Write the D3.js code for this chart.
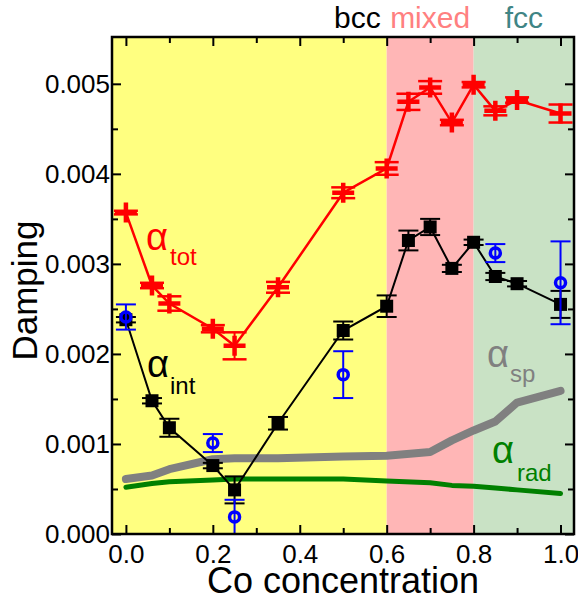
<!DOCTYPE html>
<html>
<head>
<meta charset="utf-8">
<script src="https://cdn.jsdelivr.net/npm/d3@7"></script>
<style>
  html, body { margin: 0; padding: 0; background: #fff; }
  svg { display: block; font-family: "Liberation Sans", Arial, sans-serif; }
</style>
</head>
<body>
<svg id="chart" width="578" height="601"></svg>
<script>
// Co concentration samples
const conc = [0, 0.06, 0.1, 0.2, 0.25, 0.35, 0.5, 0.6, 0.65, 0.7, 0.75, 0.8, 0.85, 0.9, 1.0];
// total damping (red crosses) and its error
const alphaTot    = [0.00357, 0.00276, 0.00256, 0.00228, 0.00209, 0.00274, 0.00379, 0.00406, 0.00480, 0.00496, 0.00457, 0.00499, 0.00470, 0.00482, 0.00467];
const alphaTotErr = [0.00002, 0.00003, 0.00008, 0.00004, 0.00015, 0.00006, 0.00006, 0.00007, 0.00009, 0.00007, 0.00003, 0.00003, 0.00005, 0.00003, 0.00010];
// intrinsic damping (black squares) and its error
const alphaInt    = [0.00238, 0.00148, 0.00118, 0.00076, 0.00049, 0.00123, 0.00226, 0.00253, 0.00326, 0.00341, 0.00295, 0.00324, 0.00286, 0.00278, 0.00255];
const alphaIntErr = [0.00003, 0.00003, 0.00010, 0.00003, 0.00015, 0.00007, 0.00010, 0.00012, 0.00011, 0.00009, 0.00004, 0.00003, 0.00004, 0.00003, 0.00015];
// calculated damping (blue open circles)
const calcConc    = [0, 0.2, 0.25, 0.5, 0.85, 1.0];
const alphaCalc   = [0.00241, 0.00101, 0.00019, 0.00177, 0.00312, 0.00279];
const alphaCalcErr= [0.00014, 0.00010, 0.00019, 0.00026, 0.00010, 0.00046];
// spin pumping and radiative contributions
const curveConc = [0, 0.06, 0.1, 0.2, 0.25, 0.35, 0.5, 0.6, 0.7, 0.75, 0.8, 0.85, 0.9, 1.0];
const alphaSp   = [0.00061, 0.00065, 0.00072, 0.00083, 0.00084, 0.00084, 0.00086, 0.00087, 0.00091, 0.00104, 0.00115, 0.00125, 0.00146, 0.00159];
const alphaRad  = [0.00052, 0.00056, 0.00058, 0.00060, 0.00061, 0.00061, 0.00061, 0.00059, 0.00057, 0.00054, 0.00053, 0.00051, 0.00049, 0.00045];
// crystal phase regions
const phaseNames  = ["bcc", "mixed", "fcc"];
const phaseBounds = [0.6, 0.8];
// axis ticks
const xTicks = [0, 0.2, 0.4, 0.6, 0.8, 1.0];
const xMinor = [0.1, 0.3, 0.5, 0.7, 0.9];
const yTicks = [0, 0.001, 0.002, 0.003, 0.004, 0.005];
const yMinor = [0.0005, 0.0015, 0.0025, 0.0035, 0.0045];

const svg = d3.select("#chart");
const L = 112, R = 574, T = 37, B = 534;
const xDomain = [-0.032, 1.031];
const x = d3.scaleLinear().domain(xDomain).range([L, R]);
const y = d3.scaleLinear().domain([0, 0.00552]).range([B, T]);

// phase backgrounds
const phaseEdges = [xDomain[0], ...phaseBounds, xDomain[1]];
const phaseFill  = ["#ffff80", "#ffb6b6", "#c9e2c5"];
const phaseText  = ["#000000", "#ff8080", "#3f8585"];
svg.append("g").selectAll("rect").data(phaseNames).join("rect")
  .attr("x", (d, i) => x(phaseEdges[i]))
  .attr("y", T)
  .attr("width", (d, i) => x(phaseEdges[i + 1]) - x(phaseEdges[i]))
  .attr("height", B - T)
  .attr("fill", (d, i) => phaseFill[i]);

// phase labels above the frame
svg.append("g").selectAll("text").data(phaseNames).join("text")
  .attr("x", (d, i) => i === 0 ? x(phaseEdges[1]) - 6 : (x(phaseEdges[i]) + x(phaseEdges[i + 1])) / 2)
  .attr("y", 28)
  .attr("text-anchor", (d, i) => i === 0 ? "end" : "middle")
  .attr("font-size", 30)
  .attr("fill", (d, i) => phaseText[i])
  .text(d => d);

// axes: ticks point inward on all four sides
function tickAxis(axisGen, transform) {
  const g = svg.append("g").attr("transform", transform).call(axisGen);
  g.select(".domain").remove();
  g.selectAll(".tick line").attr("stroke", "#000").attr("stroke-width", 2);
  return g;
}
const fmtX = d3.format(".1f"), fmtY = d3.format(".3f");

const gxB = tickAxis(d3.axisBottom(x).tickValues(xTicks).tickSize(-9).tickPadding(11).tickFormat(fmtX), `translate(0,${B})`);
gxB.selectAll("text").attr("font-size", 26).attr("fill", "#000").attr("font-family", "Liberation Sans, Arial, sans-serif");
tickAxis(d3.axisBottom(x).tickValues(xMinor).tickSize(-6).tickFormat(""), `translate(0,${B})`);
tickAxis(d3.axisTop(x).tickValues(xTicks).tickSize(-9).tickFormat(""), `translate(0,${T})`);
tickAxis(d3.axisTop(x).tickValues(xMinor).tickSize(-6).tickFormat(""), `translate(0,${T})`);

const gyL = tickAxis(d3.axisLeft(y).tickValues(yTicks).tickSize(-9).tickPadding(2).tickFormat(fmtY), `translate(${L},0)`);
gyL.selectAll("text").attr("font-size", 26).attr("fill", "#000").attr("font-family", "Liberation Sans, Arial, sans-serif");
tickAxis(d3.axisLeft(y).tickValues(yMinor).tickSize(-6).tickFormat(""), `translate(${L},0)`);
tickAxis(d3.axisRight(y).tickValues(yTicks).tickSize(-9).tickFormat(""), `translate(${R},0)`);
tickAxis(d3.axisRight(y).tickValues(yMinor).tickSize(-6).tickFormat(""), `translate(${R},0)`);

// spin-pumping and radiative curves
const line = d3.line().x(d => x(d[0])).y(d => y(d[1]));
svg.append("path").datum(d3.zip(curveConc, alphaSp)).attr("d", line)
  .attr("fill", "none").attr("stroke", "#808080").attr("stroke-width", 8)
  .attr("stroke-linecap", "round").attr("stroke-linejoin", "round");
svg.append("path").datum(d3.zip(curveConc, alphaRad)).attr("d", line)
  .attr("fill", "none").attr("stroke", "#008000").attr("stroke-width", 5)
  .attr("stroke-linecap", "round").attr("stroke-linejoin", "round");

// helper for error bars with caps
function errorBars(g, xs, ys, es, color, capW, capSW) {
  const data = d3.zip(xs, ys, es);
  g.selectAll("line.v").data(data).join("line").attr("class", "v")
    .attr("x1", d => x(d[0])).attr("x2", d => x(d[0]))
    .attr("y1", d => y(d[1] - d[2])).attr("y2", d => y(d[1] + d[2]))
    .attr("stroke", color).attr("stroke-width", 2);
  [-1, 1].forEach(s => {
    g.selectAll("line.c" + (s > 0 ? "p" : "m")).data(data).join("line").attr("class", "c" + (s > 0 ? "p" : "m"))
      .attr("x1", d => x(d[0]) - capW / 2).attr("x2", d => x(d[0]) + capW / 2)
      .attr("y1", d => y(d[1] + s * d[2])).attr("y2", d => y(d[1] + s * d[2]))
      .attr("stroke", color).attr("stroke-width", capSW);
  });
}

// total damping
const gTot = svg.append("g");
gTot.append("path").datum(d3.zip(conc, alphaTot)).attr("d", line)
  .attr("fill", "none").attr("stroke", "#ff0000").attr("stroke-width", 2.5);
errorBars(gTot, conc, alphaTot, alphaTotErr, "#ff0000", 24, 2.5);
gTot.selectAll("path.plus").data(d3.zip(conc, alphaTot)).join("path").attr("class", "plus")
  .attr("d", d => `M${x(d[0]) - 11},${y(d[1])}H${x(d[0]) + 11}M${x(d[0])},${y(d[1]) - 10}V${y(d[1]) + 10}`)
  .attr("stroke", "#ff0000").attr("stroke-width", 4.5).attr("fill", "none");

// intrinsic damping
const gInt = svg.append("g");
gInt.append("path").datum(d3.zip(conc, alphaInt)).attr("d", line)
  .attr("fill", "none").attr("stroke", "#000").attr("stroke-width", 2);
errorBars(gInt, conc, alphaInt, alphaIntErr, "#000", 20, 2);
gInt.selectAll("rect").data(d3.zip(conc, alphaInt)).join("rect")
  .attr("x", d => x(d[0]) - 6.5).attr("y", d => y(d[1]) - 6.5)
  .attr("width", 13).attr("height", 13).attr("fill", "#000");

// calculated damping
const gCalc = svg.append("g");
errorBars(gCalc, calcConc, alphaCalc, alphaCalcErr, "#0000ff", 20, 2);
gCalc.selectAll("circle").data(d3.zip(calcConc, alphaCalc)).join("circle")
  .attr("cx", d => x(d[0])).attr("cy", d => y(d[1])).attr("r", 5)
  .attr("fill", "none").attr("stroke", "#0000ff").attr("stroke-width", 3.5);

// frame
svg.append("rect").attr("x", L).attr("y", T).attr("width", R - L).attr("height", B - T)
  .attr("fill", "none").attr("stroke", "#000").attr("stroke-width", 2.5);

// curve labels: alpha with subscript
function alphaLabel(ax, ay, sub, sx, sy, color) {
  const g = svg.append("g").attr("fill", color);
  g.append("text").attr("x", ax).attr("y", ay).attr("font-size", 38).text("α");
  g.append("text").attr("x", sx).attr("y", sy).attr("font-size", 24).text(sub);
}
alphaLabel(146, 250, "tot", 170, 265, "#ff0000");
alphaLabel(147, 377, "int", 170, 394, "#000000");
alphaLabel(487, 367, "sp", 510, 382, "#808080");
alphaLabel(492, 463, "rad", 517, 481, "#008000");

// axis titles
svg.append("text").attr("x", L + (R - L) / 2).attr("y", 593)
  .attr("text-anchor", "middle").attr("font-size", 36).text("Co concentration");
svg.append("text").attr("transform", `translate(37,${(T + B) / 2 + 5}) rotate(-90)`)
  .attr("text-anchor", "middle").attr("font-size", 35).text("Damping");
</script>
</body>
</html>
